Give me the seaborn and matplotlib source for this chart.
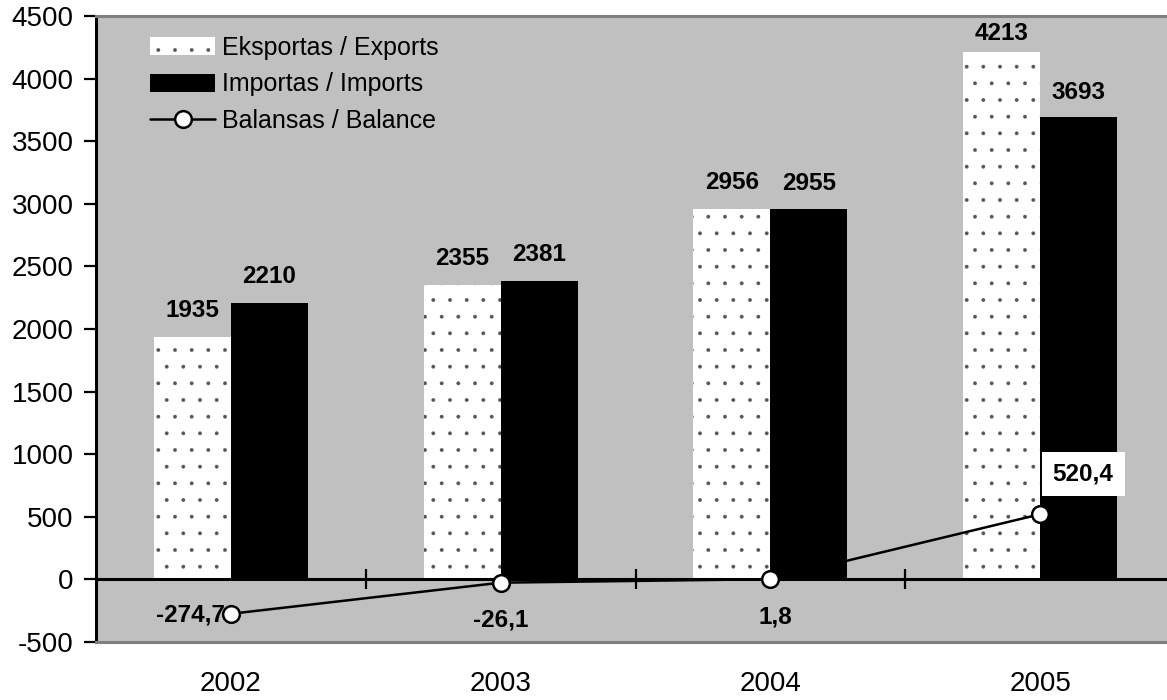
import numpy as np
import pandas as pd
import matplotlib
matplotlib.use("Agg")
import matplotlib.pyplot as plt
from matplotlib.patches import Patch
from matplotlib.lines import Line2D
import seaborn as sns

years = ["2002", "2003", "2004", "2005"]
exports = [1935, 2355, 2956, 4213]
imports = [2210, 2381, 2955, 3693]
balance = [-274.7, -26.1, 1.8, 520.4]
series_labels = ["Eksportas / Exports", "Importas / Imports", "Balansas / Balance"]
yticks = list(range(-500, 4501, 500))

sns.set_style("ticks")
plt.rcParams["font.family"] = ["Liberation Sans", "DejaVu Sans"]
plt.rcParams["axes.unicode_minus"] = False
plt.rcParams["hatch.linewidth"] = 0.3
for k in ["text.color", "axes.labelcolor", "xtick.color", "ytick.color"]:
    plt.rcParams[k] = "black"

df = pd.DataFrame({
    "year": years * 2,
    "value": exports + imports,
    "series": [series_labels[0]] * len(years) + [series_labels[1]] * len(years),
})

fig = plt.figure(figsize=(11.67, 7), dpi=100)
ax = fig.add_axes([96 / 1167, 58 / 700, 1079 / 1167, 626 / 700])
ax.set_facecolor("#c0c0c0")

sns.barplot(data=df, x="year", y="value", hue="series",
            palette={series_labels[0]: "white", series_labels[1]: "black"},
            width=0.57, gap=0, linewidth=0, legend=False, ax=ax, zorder=2)

hatch_col = "#555555"
for bar in ax.containers[0]:
    bar.set_hatch(".")
    bar.set_edgecolor(hatch_col)
    bar.set_linewidth(0)

# zero line and category separators
ax.axhline(0, color="black", lw=2.2, zorder=3)
sep = np.arange(len(years) - 1) + 0.5
ax.vlines(sep, -80, 80, color="black", lw=1.6, zorder=3)

# balance line
xpos = np.arange(len(years))
sns.lineplot(x=xpos, y=balance, ax=ax, color="black", lw=1.8, marker="o",
             markersize=12, markerfacecolor="white", markeredgecolor="black",
             markeredgewidth=1.8, zorder=5, legend=False)

ax.set_xlim(-0.5, 3.5)
ax.set_ylim(-500, 4500)
ax.set_yticks(yticks)
ax.set_yticklabels([str(t) for t in yticks])
ax.set_xlabel("")
ax.set_ylabel("")

ax.tick_params(axis="y", length=9, width=1.6, pad=7, labelsize=20, color="black")
ax.tick_params(axis="x", length=0, pad=21, labelsize=20)

for s in ["top", "bottom"]:
    ax.spines[s].set_color("#808080")
    ax.spines[s].set_linewidth(2.2)
ax.spines["left"].set_color("black")
ax.spines["left"].set_linewidth(2.2)
ax.spines["right"].set_visible(False)

# bar value labels
exp_off = [19, 19, 19, 13]
imp_off = [19, 19, 19, 18]
for cont, vals, offs in [(ax.containers[0], exports, exp_off), (ax.containers[1], imports, imp_off)]:
    for bar, v, o in zip(cont, vals, offs):
        ax.annotate(str(v), (bar.get_x() + bar.get_width() / 2, bar.get_height()),
                    xytext=(0, o), textcoords="offset points", ha="center", va="center",
                    fontsize=17.5, fontweight="bold", zorder=6)

# balance labels
bal_off = [(-29, -1), (0, -27), (3.5, -27), (31, 29)]
for i, (v, o) in enumerate(zip(balance, bal_off)):
    kw = {}
    if i == 3:
        kw["bbox"] = dict(boxstyle="square,pad=0.45", fc="white", ec="none")
    ax.annotate(f"{v:.1f}".replace(".", ","), (i, v), xytext=o, textcoords="offset points",
                ha="center", va="center", fontsize=17.5, fontweight="bold", zorder=6, **kw)

handles = [
    Patch(facecolor="white", edgecolor=hatch_col, hatch=".", linewidth=0),
    Patch(facecolor="black", edgecolor="black", linewidth=0),
    Line2D([], [], color="black", lw=1.8, marker="o", markersize=12,
           markerfacecolor="white", markeredgecolor="black", markeredgewidth=1.8),
]
ax.legend(handles, series_labels, loc="upper left",
          bbox_to_anchor=((150 - 96) / 1079, (642 - 36) / 626),
          frameon=False, fontsize=18, handlelength=2.6, handleheight=0.75,
          handletextpad=0.3, labelspacing=0.5, borderpad=0, borderaxespad=0)

fig.savefig("out.png", dpi=100)
